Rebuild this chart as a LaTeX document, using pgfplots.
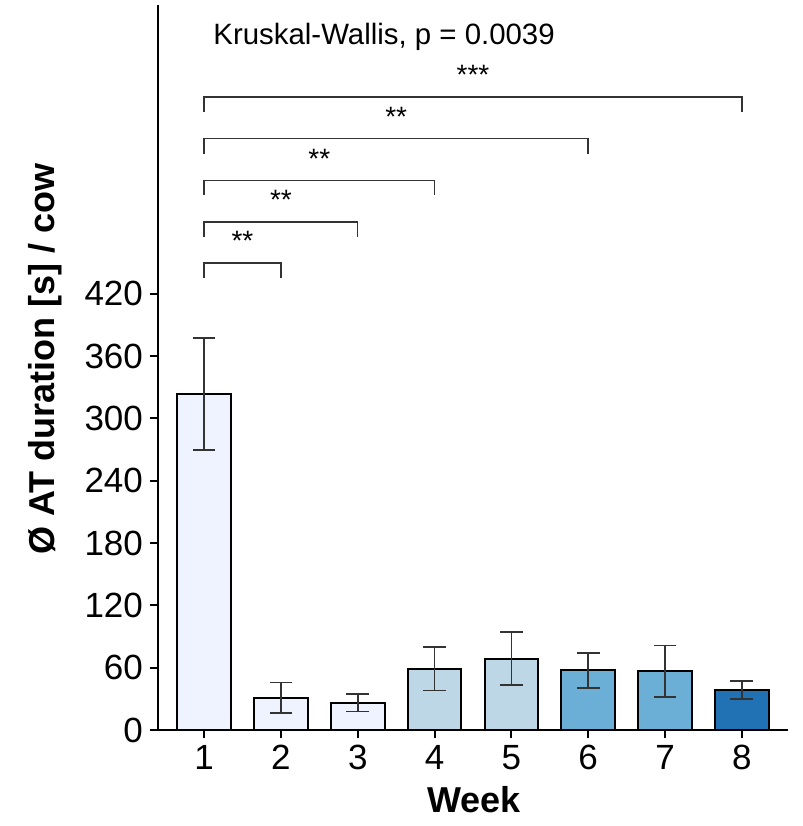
\documentclass[border=0pt]{standalone}
\usepackage{pgfplots}
\pgfplotsset{compat=1.18}
\usepackage{fontspec}
\setmainfont{Liberation Sans}

\definecolor{blA}{HTML}{EFF3FF}
\definecolor{blB}{HTML}{BDD7E7}
\definecolor{blC}{HTML}{6BAED6}
\definecolor{blD}{HTML}{2171B5}
\definecolor{errc}{HTML}{333333}

\begin{document}
\begin{tikzpicture}
\begin{axis}[
    scale only axis,
    width=315pt, height=362.5pt,
    xmin=0.4, xmax=8.6,
    ymin=0, ymax=698,
    axis x line*=bottom, axis y line*=left,
    axis line style={-, line width=1pt, black},
    xtick={1,...,8},
    ytick={0,60,...,420},
    tick align=outside,
    major tick length=4pt,
    tick style={line width=1pt, black},
    ticklabel style={font=\fontsize{17.5}{20}\selectfont},
    /pgf/number format/assume math mode=true,
    xlabel={Week},
    ylabel={Ø AT duration [s] / cow},
    every axis x label/.style={at={(axis description cs:0.502,-0.0966)}, anchor=center,
      font=\bfseries\fontsize{18}{21}\selectfont},
    every axis y label/.style={at={(axis description cs:-0.179,0.512)}, rotate=90, anchor=center,
      font=\bfseries\fontsize{18}{21}\selectfont},
    clip=false,
    error bars/error bar style={line width=0.9pt, errc},
    error bars/error mark options={rotate=90, mark size=5.7pt, line width=0.9pt, errc},
]

\addplot[ybar, bar width=0.7, fill=blA, draw=black, line width=1pt,
  error bars/.cd, y dir=both, y explicit]
  coordinates {(1,323.5) +- (0,53.8) (2,31) +- (0,14.7) (3,26.3) +- (0,8.5)};
\addplot[ybar, bar width=0.7, fill=blB, draw=black, line width=1pt,
  error bars/.cd, y dir=both, y explicit]
  coordinates {(4,59.1) +- (0,21) (5,68.7) +- (0,25.3)};
\addplot[ybar, bar width=0.7, fill=blC, draw=black, line width=1pt,
  error bars/.cd, y dir=both, y explicit]
  coordinates {(6,57.5) +- (0,17) (7,56.5) +- (0,24.8)};
\addplot[ybar, bar width=0.7, fill=blD, draw=black, line width=1pt,
  error bars/.cd, y dir=both, y explicit]
  coordinates {(8,38.5) +- (0,8.3)};

% significance brackets
\foreach \xe/\yl/\st in {2/449.6/{**}, 3/489.1/{**}, 4/529.2/{**}, 6/569.4/{**}, 8/609.5/{***}} {
  \edef\tmp{\noexpand\draw[line width=0.75pt, errc]
    (axis cs:1,\yl-14.5) -- (axis cs:1,\yl) -- (axis cs:\xe,\yl) -- (axis cs:\xe,\yl-14.5);}
  \tmp
  \edef\tmp{\noexpand\node[font=\noexpand\fontsize{14}{16}\noexpand\selectfont, anchor=center]
    at (axis cs:{(1+\xe)/2},\yl+21) {\st};}
  \tmp
}

\node[anchor=west, font=\fontsize{14.7}{17}\selectfont, inner sep=0pt] at (axis cs:1.117,667.6) {Kruskal-Wallis, p = 0.0039};

\coordinate (bbl) at (axis description cs:-0.2508,-0.1324);
\coordinate (btr) at (axis description cs:1.0238,1.0069);
\end{axis}
\pgfresetboundingbox
\path[use as bounding box] (bbl) rectangle (btr);
\end{tikzpicture}
\end{document}
